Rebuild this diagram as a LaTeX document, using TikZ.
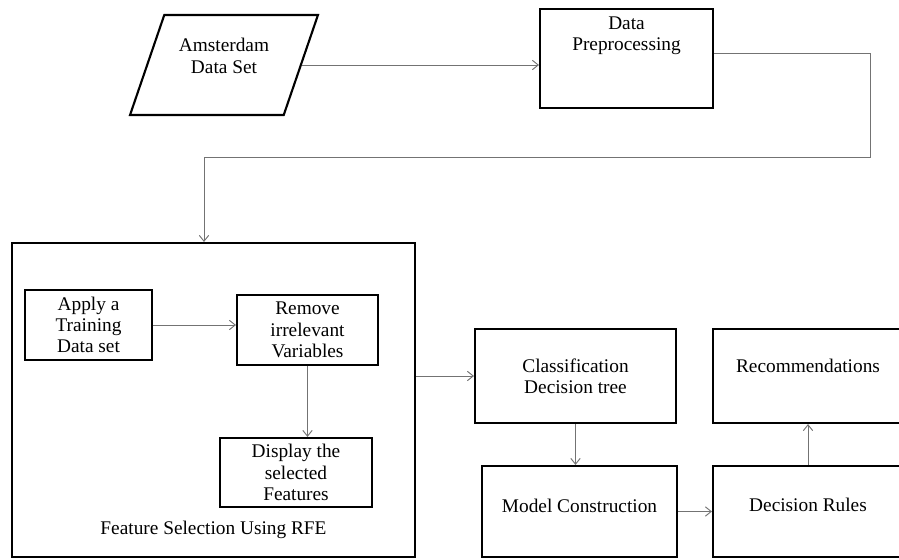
\documentclass[tikz,border=0pt]{standalone}
\usepackage{fontspec}
\setmainfont{Liberation Serif}
\usetikzlibrary{shapes.geometric,positioning,calc,arrows.meta}
\newcommand{\boxfont}{\fontsize{16.5}{18.2}\selectfont}

\begin{document}
\begin{tikzpicture}[x=0.03cm, y=-0.03cm, lbl/.style={align=center, font=\boxfont, inner sep=0pt}, cnx/.style={draw=black!55, line width=0.8pt, -{Straight Barb[length=5pt,width=8pt]}}]
\tikzstyle{blk}=[draw, line width=1.8pt, inner sep=2pt, align=center, font=\boxfont]
\useasboundingbox (0,0) rectangle (899,559);
% input and preprocessing
\node[blk, trapezium, trapezium left angle=74, trapezium right angle=106, trapezium stretches=true, minimum width=5.64cm, minimum height=3cm, label={[lbl,yshift=0.27cm]center:{Amsterdam\\Data Set}}] (ds) at (224,65) {};
\node[blk, minimum width=5.19cm, minimum height=2.97cm, label={[lbl,yshift=0.675cm]center:{Data\\Preprocessing}}] (pre) at (626.5,58.5) {};
% feature selection block
\node[blk, minimum width=12.09cm, minimum height=9.42cm, label={[lbl,yshift=-3.9cm]center:{Feature Selection Using RFE}}] (fs) at (213.5,400) {};
\node[blk, minimum width=3.81cm, minimum height=2.1cm] (app) at (88.5,325) {Apply a\\Training\\Data set};
\node[blk, minimum width=4.23cm, minimum height=2.1cm] (rem) at (307.5,330) {Remove\\irrelevant\\Variables};
\node[blk, minimum width=4.56cm, minimum height=2.07cm] (dis) at (296,472.5) {Display the\\selected\\Features};
% model side
\node[blk, minimum width=6.03cm, minimum height=2.82cm] (cls) at (575.5,376) {Classification\\Decision tree};
\node[blk, minimum width=5.7cm, minimum height=2.82cm, label={[lbl,yshift=0.3cm]center:Recommendations}] (rec) at (808,376) {};
\node[blk, minimum width=5.85cm, minimum height=2.73cm, label={[lbl,yshift=0.17cm]center:Model Construction}] (mod) at (579.5,511.5) {};
\node[blk, minimum width=5.7cm, minimum height=2.73cm, label={[lbl,yshift=0.2cm]center:Decision Rules}] (dr) at (808,511.5) {};
\coordinate (c1) at (870,157);
\coordinate (c2) at (204,157);
\draw[cnx] ([yshift=0.15cm]pre.east) -| (c1) -- (c2) -- (c2 |- fs.north);
\draw[cnx] (cls.west -| fs.east) -- (cls.west);
\foreach \i/\j in {ds.east/pre.west, app.east/rem.west, mod.east/dr.west}{\draw[cnx] (\i) -- (\i -| \j);}
\foreach \i/\j in {rem.south/dis.north, cls.south/mod.north, dr.north/rec.south}{\draw[cnx] (\i) -- (\i |- \j);}
\end{tikzpicture}
\end{document}
